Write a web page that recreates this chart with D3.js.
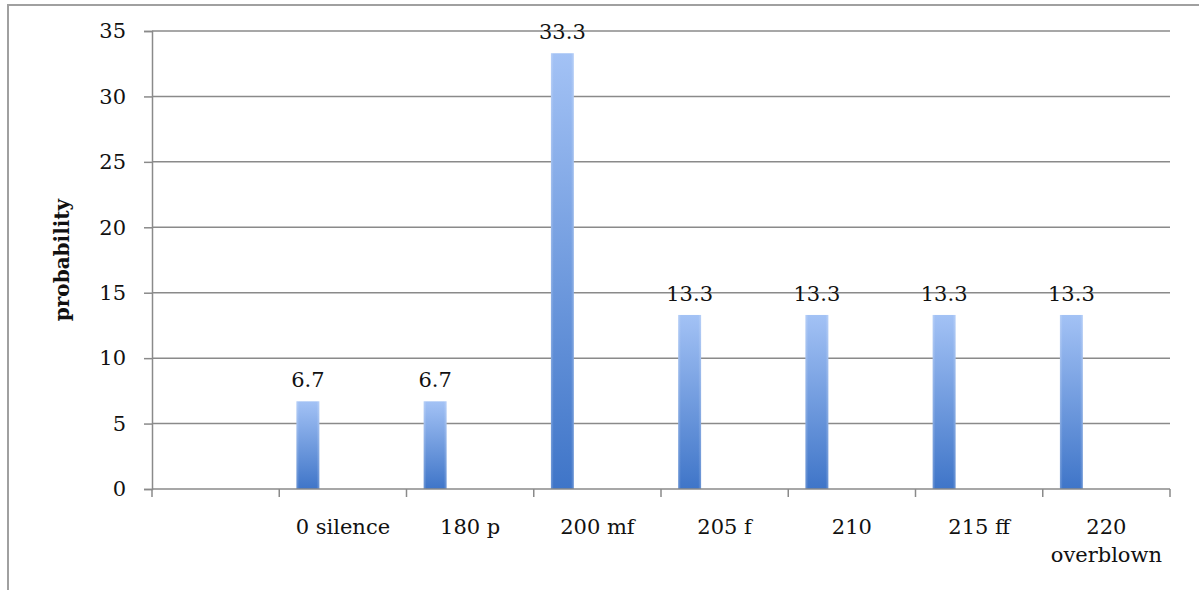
<!DOCTYPE html>
<html><head><meta charset="utf-8">
<script src="https://cdn.jsdelivr.net/npm/d3@7"></script>
<style>
html,body{margin:0;padding:0;background:#fff;}
svg{display:block;}
</style></head>
<body>
<script>
const categories = ["", "0 silence", "180 p", "200 mf", "205 f", "210", "215 ff", "220\noverblown"];
const values = [null, 6.7, 6.7, 33.3, 13.3, 13.3, 13.3, 13.3];
const valueLabels = ["", "6.7", "6.7", "33.3", "13.3", "13.3", "13.3", "13.3"];
const yTicks = [0, 5, 10, 15, 20, 25, 30, 35];
const yTitle = "probability";

const W = 1199, H = 590;
const m = {left: 152, right: 29, top: 31, bottom: 101};
const svg = d3.select("body").append("svg").attr("width", W).attr("height", H);

// outer frame
svg.append("path").attr("d", `M8,${H} L8,5 L${W},5`).attr("fill","none").attr("stroke","#a0a0a0").attr("stroke-width",2);

const x = d3.scaleBand().domain(d3.range(categories.length)).range([m.left, W - m.right]).padding(0);
const y = d3.scaleLinear().domain([0, 35]).range([H - m.bottom, m.top]);
const bw = x.bandwidth();

const defs = svg.append("defs");
const grad = defs.append("linearGradient").attr("id","bg").attr("x1",0).attr("y1",0).attr("x2",0).attr("y2",1);
grad.append("stop").attr("offset","0%").attr("stop-color","#a3c2f5");
grad.append("stop").attr("offset","100%").attr("stop-color","#3f75c8");
const hgrad = defs.append("linearGradient").attr("id","hg").attr("x1",0).attr("y1",0).attr("x2",1).attr("y2",0);
hgrad.append("stop").attr("offset","0%").attr("stop-color","#fff").attr("stop-opacity",0.25);
hgrad.append("stop").attr("offset","12%").attr("stop-color","#fff").attr("stop-opacity",0);
hgrad.append("stop").attr("offset","88%").attr("stop-color","#fff").attr("stop-opacity",0);
hgrad.append("stop").attr("offset","100%").attr("stop-color","#fff").attr("stop-opacity",0.25);

const FONT = "'DejaVu Serif', serif";
const FS = "21px";

// gridlines
svg.append("g").selectAll("line").data(yTicks.filter(d => d > 0)).join("line")
  .attr("x1", m.left).attr("x2", W - m.right)
  .attr("y1", d => y(d)).attr("y2", d => y(d))
  .attr("stroke", "#8a8a8a").attr("stroke-width", 1.5);

// y axis
const yAxis = svg.append("g").attr("transform", `translate(${m.left},0)`)
  .call(d3.axisLeft(y).tickValues(yTicks).tickSize(8).tickPadding(18).tickFormat(d3.format("d")));
yAxis.select(".domain").attr("stroke","#8a8a8a").attr("stroke-width",1.5);
yAxis.selectAll(".tick line").attr("stroke","#8a8a8a").attr("stroke-width",1.5);
yAxis.selectAll("text").attr("font-family",FONT).attr("font-size",FS).attr("fill","#111");

// bars
const barOff = 0.135, barW = 0.18;
const bars = svg.append("g").selectAll("g").data(values.map((v,i)=>({v,i})).filter(d => d.v != null)).join("g");
bars.append("rect")
  .attr("x", d => x(d.i) + bw*barOff).attr("width", bw*barW)
  .attr("y", d => y(d.v)).attr("height", d => y(0) - y(d.v))
  .attr("fill", "url(#bg)");
bars.append("rect")
  .attr("x", d => x(d.i) + bw*barOff).attr("width", bw*barW)
  .attr("y", d => y(d.v)).attr("height", d => y(0) - y(d.v))
  .attr("fill", "url(#hg)");
bars.append("text")
  .attr("x", d => x(d.i) + bw*(barOff + barW/2)).attr("y", d => y(d.v) - 14)
  .attr("text-anchor","middle")
  .attr("font-family",FONT).attr("font-size",FS).attr("fill","#111")
  .text(d => valueLabels[d.i]);

// x axis
const xAxisG = svg.append("g").attr("transform", `translate(0,${y(0)})`);
xAxisG.append("line").attr("x1", m.left).attr("x2", W - m.right).attr("y1",0).attr("y2",0)
  .attr("stroke","#8a8a8a").attr("stroke-width",1.5);
const bounds = categories.map((c,i) => x(i)).concat([x(categories.length-1) + bw]);
xAxisG.selectAll("line.tk").data(bounds).join("line").attr("class","tk")
  .attr("x1", d => d).attr("x2", d => d).attr("y1", 0).attr("y2", 8)
  .attr("stroke","#8a8a8a").attr("stroke-width",1.5);
const xl = xAxisG.selectAll("text").data(categories.map((c,i)=>({c,i}))).join("text")
  .attr("text-anchor","middle")
  .attr("font-family",FONT).attr("font-size",FS).attr("fill","#111")
  .attr("transform", d => `translate(${x(d.i) + bw/2},45)`);
xl.each(function(d){
  const lines = d.c.split("\n");
  d3.select(this).selectAll("tspan").data(lines).join("tspan")
    .attr("x", 0).attr("dy", (l,k) => k === 0 ? 0 : 28).text(l => l);
});

// y title
svg.append("text")
  .attr("transform", `translate(69,${(y(0)+y(35))/2}) rotate(-90)`)
  .attr("text-anchor","middle")
  .attr("font-family",FONT).attr("font-weight","bold").attr("font-size","20px").attr("fill","#111")
  .text(yTitle);
</script>
</body></html>
